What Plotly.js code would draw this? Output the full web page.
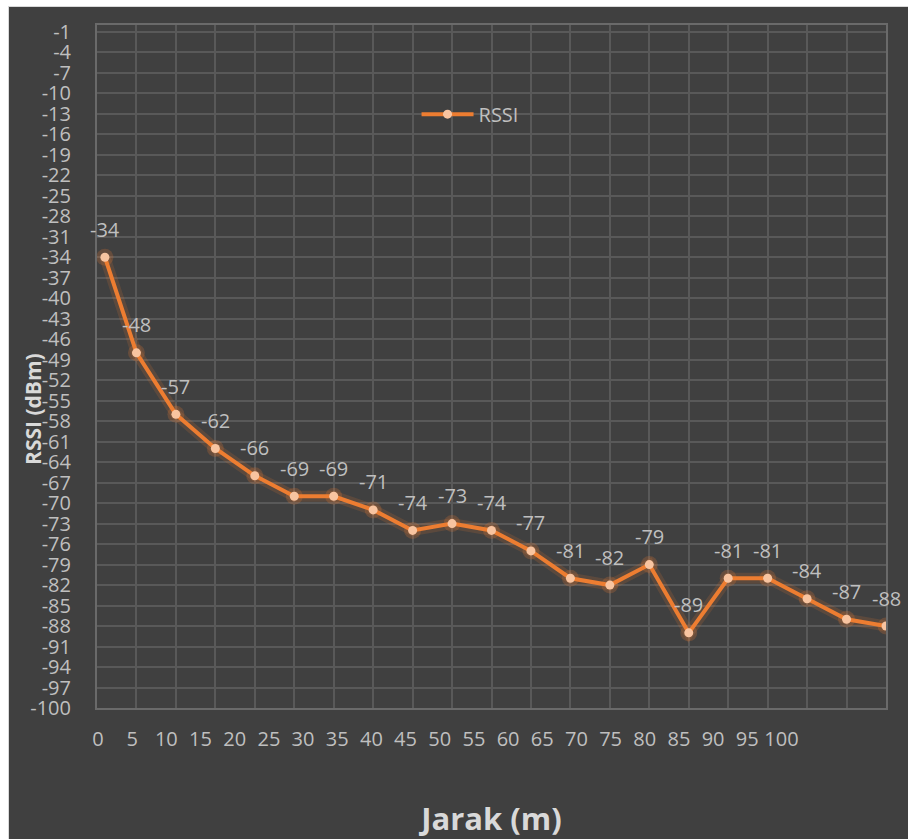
<!DOCTYPE html>
<html>
<head>
<meta charset="utf-8">
<script src="https://cdn.plot.ly/plotly-3.0.1.min.js"></script>
<style>
  html, body { margin: 0; padding: 0; background: #ffffff; width: 908px; height: 839px; overflow: hidden; }
  #chart { position: absolute; left: 8px; top: 6px; width: 900px; height: 833px; border-top: 1px solid #d9d9d9; border-left: 1px solid #d9d9d9; box-sizing: border-box; }
</style>
</head>
<body>
<div id="chart"></div>
<script>
// ---- data ----
const distance = [1, 5, 10, 15, 20, 25, 30, 35, 40, 45, 50, 55, 60, 65, 70, 75, 80, 85, 90, 95, 100];
const rssi = [-34, -48, -57, -62, -66, -69, -69, -71, -74, -73, -74, -77, -81, -82, -79, -89, -81, -81, -84, -87, -88];
const seriesName = 'RSSI';
const xTickLabels = ['0', '5', '10', '15', '20', '25', '30', '35', '40', '45', '50', '55', '60', '65', '70', '75', '80', '85', '90', '95', '100'];
const xLabelSlots = xTickLabels.map((_, i) => i);
const yTickVals = [-1, -4, -7, -10, -13, -16, -19, -22, -25, -28, -31, -34, -37, -40, -43, -46, -49, -52, -55, -58, -61, -64, -67, -70, -73, -76, -79, -82, -85, -88, -91, -94, -97, -100];
const yTickText = yTickVals.map(v => String(v));

const FONT = 'Open Sans, Noto Sans, sans-serif';
const LABEL = '#bfbfbf';
const GRID = '#595959';
const ORANGE = '#ed7d31';

const traces = [
  { // soft glow beneath the line
    x: distance, y: rssi, type: 'scatter', mode: 'lines+markers',
    line: { color: 'rgba(237,125,49,0.16)', width: 11 },
    marker: { color: 'rgba(237,125,49,0.22)', size: 17 },
    showlegend: false, hoverinfo: 'skip'
  },
  {
    x: distance, y: rssi, type: 'scatter', mode: 'lines+markers', name: seriesName,
    line: { color: ORANGE, width: 4 },
    marker: { color: '#f8c4a0', size: 9 }
  },
  { // carries the bottom tick labels
    x: xLabelSlots, y: xLabelSlots.map(() => null), xaxis: 'x2', yaxis: 'y',
    type: 'scatter', mode: 'markers', showlegend: false, hoverinfo: 'skip'
  }
];

const annotations = distance.map((d, i) => ({
  x: d, y: rssi[i], xref: 'x', yref: 'y', text: String(rssi[i]),
  showarrow: false, yshift: 28, xanchor: 'center', yanchor: 'middle',
  font: { family: FONT, size: 20, color: LABEL }
}));
annotations.push({
  xref: 'paper', yref: 'paper', x: -0.081, y: 0.438,
  text: 'RSSI (dBm)', textangle: -90, showarrow: false,
  xanchor: 'center', yanchor: 'middle',
  font: { family: FONT, size: 21, color: '#d9d9d9', weight: 'bold' }
});

const layout = {
  width: 900, height: 833,
  paper_bgcolor: '#404040', plot_bgcolor: '#404040',
  margin: { l: 88, r: 23, t: 18, b: 132 },
  font: { family: FONT, size: 20, color: LABEL },
  showlegend: true,
  legend: {
    x: 0.405, y: 0.898, xanchor: 'left', yanchor: 'top',
    bgcolor: 'rgba(0,0,0,0)', itemwidth: 52,
    font: { family: FONT, size: 20, color: LABEL }
  },
  xaxis: {
    type: 'linear', range: [0, 100], dtick: 5, tick0: 0,
    showgrid: true, gridcolor: GRID, gridwidth: 2,
    zeroline: false, showticklabels: false, ticks: '',
    showline: true, mirror: true, linecolor: '#6a6a6a', linewidth: 2,
    title: { text: 'Jarak (m)', font: { family: FONT, size: 31, color: '#d9d9d9', weight: 'bold' }, standoff: 99 }
  },
  xaxis2: {
    type: 'linear', overlaying: 'x', anchor: 'y', side: 'bottom',
    range: [-0.03, 23.06],
    tickmode: 'array', tickvals: xLabelSlots, ticktext: xTickLabels,
    showgrid: false, zeroline: false, showline: false,
    ticks: 'outside', ticklen: 13, tickcolor: 'rgba(0,0,0,0)',
    tickfont: { family: FONT, size: 20, color: LABEL }
  },
  yaxis: {
    range: [-100, 0],
    tickmode: 'array', tickvals: yTickVals, ticktext: yTickText,
    showgrid: true, gridcolor: GRID, gridwidth: 2,
    zeroline: false,
    showline: true, mirror: true, linecolor: '#6a6a6a', linewidth: 2,
    ticks: 'outside', ticklen: 20, tickcolor: 'rgba(0,0,0,0)',
    tickfont: { family: FONT, size: 20, color: LABEL }
  },
  annotations: annotations
};

Plotly.newPlot('chart', traces, layout, { displayModeBar: false, staticPlot: true });
</script>
</body>
</html>
